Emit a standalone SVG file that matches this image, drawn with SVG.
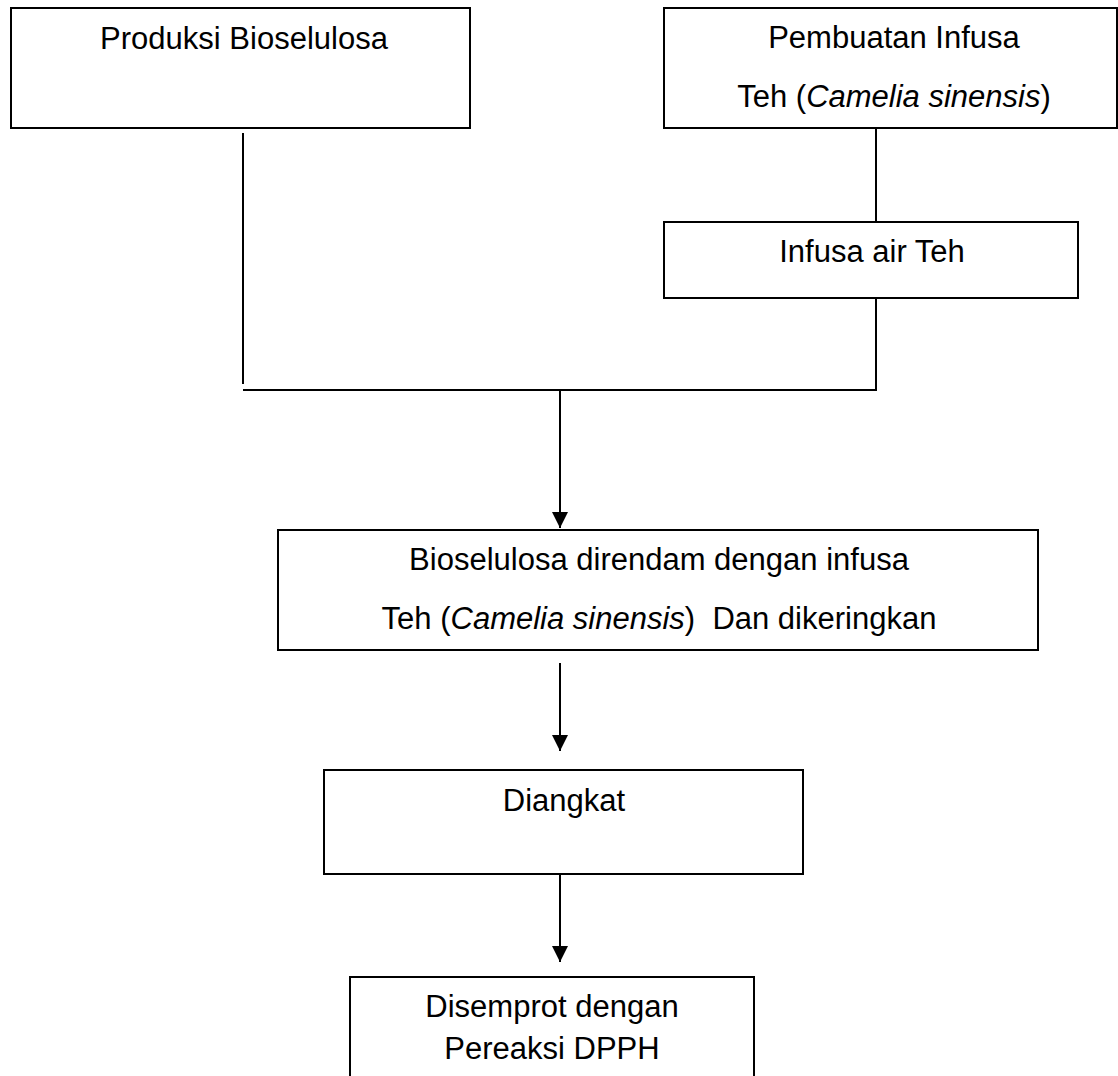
<svg xmlns="http://www.w3.org/2000/svg" width="1118" height="1076" viewBox="0 0 1118 1076">
<defs>
<style>
.box{fill:#fff;stroke:#000;stroke-width:2}
.ln{fill:none;stroke:#000;stroke-width:2}
text{font-family:"Liberation Sans",Arial,sans-serif;font-size:31px;fill:#000;text-anchor:middle;white-space:pre}
</style>
<marker id="ah" viewBox="0 0 16 16" refX="16" refY="8" markerWidth="16" markerHeight="16" markerUnits="userSpaceOnUse" orient="auto">
<path d="M0,0 L16,8 L0,16 Z" fill="#000"/>
</marker>
</defs>
<rect width="1118" height="1076" fill="#fff"/>
<g id="connectors">
<line class="ln" x1="876" y1="128" x2="876" y2="222"/>
<line class="ln" x1="243" y1="133" x2="243" y2="384"/>
<polyline class="ln" points="876,295 876,390 243,390"/>
<line class="ln" x1="560" y1="390" x2="560" y2="528" marker-end="url(#ah)"/>
<line class="ln" x1="560" y1="663" x2="560" y2="751" marker-end="url(#ah)"/>
<line class="ln" x1="560" y1="874" x2="560" y2="962" marker-end="url(#ah)"/>
</g>
<g id="node-produksi">
<rect class="box" x="11" y="8" width="459" height="120"/>
<text x="244" y="49">Produksi Bioselulosa</text>
</g>
<g id="node-pembuatan">
<rect class="box" x="664" y="8" width="453" height="120"/>
<text x="894" y="48">Pembuatan Infusa</text>
<text x="894" y="107">Teh (<tspan font-style="italic">Camelia sinensis</tspan>)</text>
</g>
<g id="node-infusa">
<rect class="box" x="664" y="222" width="414" height="76"/>
<text x="872" y="262">Infusa air Teh</text>
</g>
<g id="node-direndam">
<rect class="box" x="278" y="530" width="760" height="120"/>
<text x="659" y="570">Bioselulosa direndam dengan infusa</text>
<text x="659" y="629">Teh (<tspan font-style="italic">Camelia sinensis</tspan>)  Dan dikeringkan</text>
</g>
<g id="node-diangkat">
<rect class="box" x="324" y="770" width="479" height="104"/>
<text x="564" y="811">Diangkat</text>
</g>
<g id="node-disemprot">
<rect class="box" x="350" y="977" width="404" height="110"/>
<text x="552" y="1017">Disemprot dengan</text>
<text x="552" y="1059">Pereaksi DPPH</text>
</g>
</svg>
